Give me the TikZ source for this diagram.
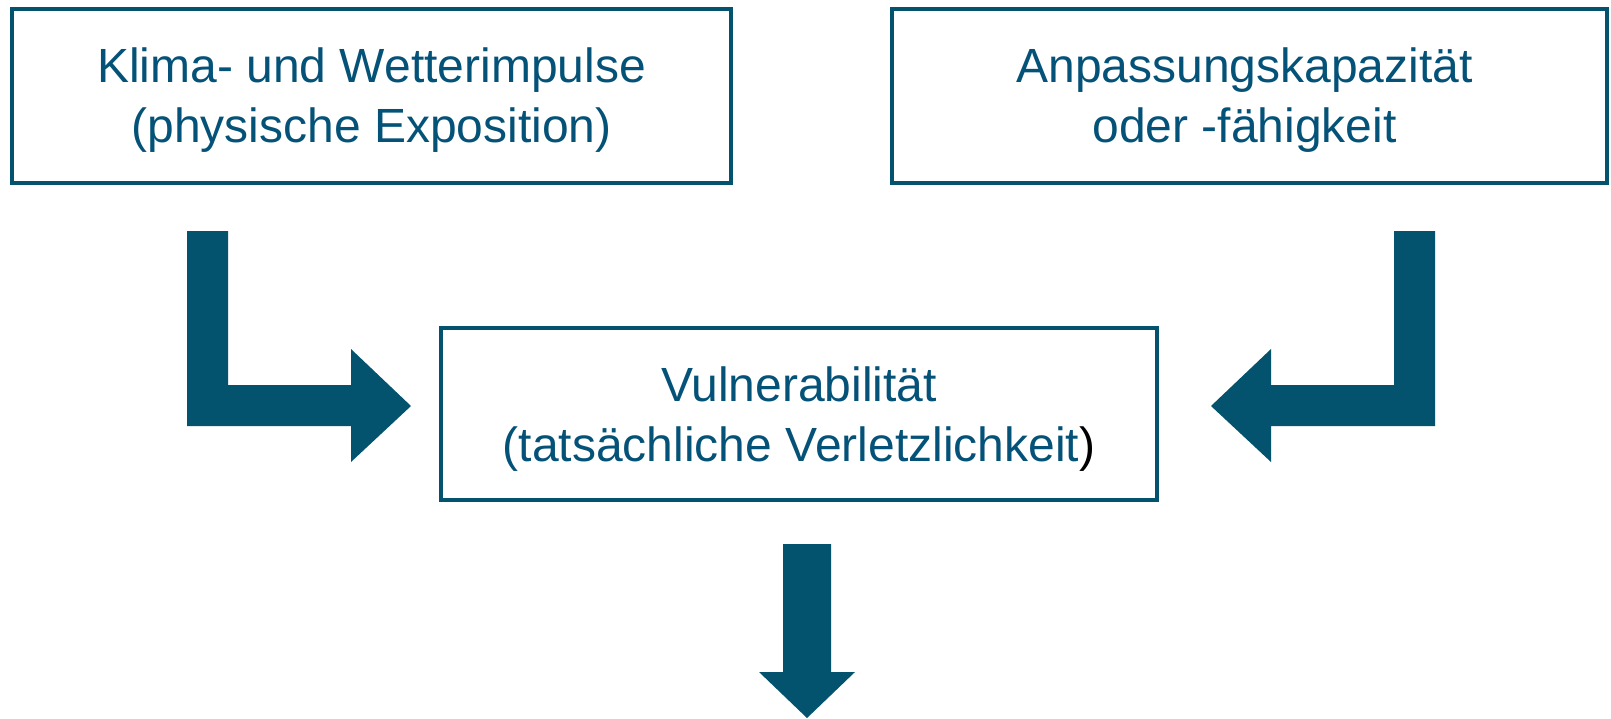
\documentclass[tikz,border=0pt]{standalone}
\usepackage{fontspec}
\setmainfont{Liberation Sans}
\definecolor{teal}{RGB}{3,82,110}
\definecolor{tealtext}{RGB}{5,82,120}
\begin{document}
\begin{tikzpicture}[x=1pt,y=-1pt,
  box/.style={draw=teal,line width=4pt,rectangle,inner sep=0pt},
  txt/.style={align=center,inner sep=0pt,text=tealtext,font=\fontsize{48}{60}\selectfont},
  blockarrow/.style={fill=teal,draw=none}]
\useasboundingbox (0,0) rectangle (1611,718);
\node[box,minimum width=719pt,minimum height=174pt] (klima) at (371.5,96) {};
\node[txt] (klimatxt) at ([yshift=-4pt]klima.center)
  {Klima- und Wetterimpulse\\(physische Exposition)};
\node[box,minimum width=715pt,minimum height=174pt] (anp) at (1249.5,96) {};
\node[txt] (anptxt) at ([xshift=-5pt,yshift=-4pt]anp.center)
  {Anpassungskapazität\\oder -fähigkeit};
\node[box,minimum width=716pt,minimum height=172pt] (vul) at (799,414) {};
\node[txt] (vultxt) at ([yshift=-5pt]vul.center)
  {Vulnerabilität\\(tatsächliche Verletzlichkeit\textcolor{black}{)}};
\fill[blockarrow] (187,231) -- (228,231) -- (228,385) -- (351,385) -- (351,349)
  -- (411,406) -- (351,462) -- (351,426) -- (187,426) -- cycle;
\fill[blockarrow] (1435,231) -- (1394,231) -- (1394,385) -- (1271,385) -- (1271,349)
  -- (1211,406) -- (1271,462) -- (1271,426) -- (1435,426) -- cycle;
\fill[blockarrow] (783,544) -- (831,544) -- (831,672) -- (855,672) -- (807,718)
  -- (759,672) -- (783,672) -- cycle;
\end{tikzpicture}
\end{document}
